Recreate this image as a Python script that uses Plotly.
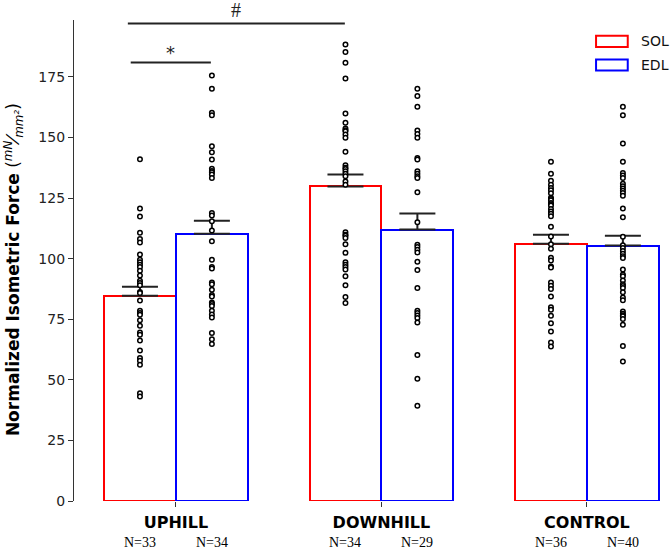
import plotly.graph_objects as go

# ---------------- data ----------------
groups = ["UPHILL", "DOWNHILL", "CONTROL"]
series_names = ["SOL", "EDL"]

sol_mean = [84.7, 129.8, 106.2]
sol_sem = [3.7, 4.9, 3.7]
edl_mean = [110.3, 112.0, 105.4]
edl_sem = [5.4, 6.6, 4.1]

sol_n = [33, 34, 36]
edl_n = [34, 29, 40]

sol_uphill = [141.0, 120.7, 117.4, 110.7, 108.1, 106.7, 101.7, 99.6, 98.5, 97.5, 96.6,
              95.0, 93.1, 90.9, 90.0, 89.0, 86.2, 85.8, 82.7, 78.5, 77.6, 76.9, 74.6,
              72.3, 69.5, 68.6, 66.2, 62.1, 59.0, 57.9, 56.2, 44.5, 43.1]
edl_uphill = [175.6, 170.1, 160.2, 159.2, 146.4, 143.9, 140.9, 137.1, 136.2, 135.7, 134.7,
              133.3, 118.9, 117.8, 115.4, 111.6, 107.2, 99.6, 96.6, 96.0, 90.2, 89.5,
              87.2, 85.0, 84.4, 81.9, 81.3, 80.5, 78.5, 77.0, 75.7, 69.3, 66.8, 64.8]
sol_downhill = [188.4, 185.3, 180.9, 174.4, 159.9, 156.1, 153.7, 153.0, 152.6, 151.2, 149.9,
                144.1, 138.6, 137.5, 137.0, 136.1, 135.0, 134.0, 131.9, 130.5, 110.9, 109.9,
                109.5, 108.5, 106.0, 102.4, 98.5, 97.5, 96.6, 95.5, 92.7, 89.0, 84.2, 81.7]
edl_downhill = [170.1, 167.1, 162.7, 152.9, 151.5, 149.9, 141.5, 140.9, 136.1, 135.1, 134.0,
                133.3, 127.4, 115.0, 105.8, 104.8, 103.7, 102.6, 98.7, 95.3, 87.9, 78.5,
                77.6, 76.6, 75.5, 73.7, 60.2, 50.5, 39.3]
sol_control = [140.0, 135.0, 132.2, 130.5, 129.2, 128.2, 127.0, 125.1, 124.6, 124.1, 123.0,
               122.5, 121.9, 120.5, 119.5, 118.5, 117.5, 113.2, 109.2, 106.0, 104.1, 100.4,
               99.3, 96.8, 96.4, 90.2, 88.8, 87.5, 84.4, 80.0, 78.9, 76.4, 73.4, 70.0,
               65.4, 63.8]
edl_control = [162.7, 159.2, 147.5, 140.0, 135.4, 134.3, 133.3, 130.9, 129.9, 129.0, 128.0,
               127.1, 126.0, 120.7, 117.1, 109.0, 105.5, 104.4, 103.2, 102.0, 101.0, 100.3,
               95.5, 93.5, 92.7, 91.0, 89.5, 88.7, 87.9, 86.1, 84.0, 82.8, 78.2, 77.3,
               76.7, 76.2, 75.1, 72.7, 64.0, 57.6]

sol_points = [sol_uphill, sol_downhill, sol_control]
edl_points = [edl_uphill, edl_downhill, edl_control]

y_tick_vals = [0, 25, 50, 75, 100, 125, 150, 175]

# significance brackets: (x start, x end, y level, label)
brackets = [(-0.22, 0.17, 181.0, "*"), (-0.234, 0.822, 197.1, "#")]

# ---------------- styling ----------------
BAR_W = 0.35
OFFS = BAR_W / 2
FONT = "DejaVu Sans"
colors = {"SOL": "#ff0000", "EDL": "#0000ff"}

fig = go.Figure()

sol_x = [i - OFFS for i in range(len(groups))]
edl_x = [i + OFFS for i in range(len(groups))]

for name, xs, means, sems in [("SOL", sol_x, sol_mean, sol_sem),
                              ("EDL", edl_x, edl_mean, edl_sem)]:
    fig.add_trace(go.Bar(
        x=xs, y=means, width=BAR_W, name=name, showlegend=False,
        marker=dict(color="rgba(255,255,255,0)", line=dict(color=colors[name], width=2)),
        error_y=dict(type="data", symmetric=False, array=sems, arrayminus=[0] * len(sems),
                     color="#222222", thickness=2, width=18),
    ))

for xs, pts_list in [(sol_x, sol_points), (edl_x, edl_points)]:
    for xc, pts in zip(xs, pts_list):
        fig.add_trace(go.Scatter(
            x=[xc] * len(pts), y=pts, mode="markers", showlegend=False,
            marker=dict(symbol="circle", size=4.5, color="white",
                        line=dict(color="black", width=1.5)),
        ))

# significance brackets
for x0, x1, yv, lab in brackets:
    fig.add_shape(type="line", x0=x0, x1=x1, y0=yv, y1=yv, xref="x", yref="y",
                  line=dict(color="#222222", width=2))
    fig.add_annotation(x=(x0 + x1) / 2, y=yv, xref="x", yref="y", text=lab,
                       showarrow=False, yanchor="bottom", yshift=-3 if lab == "*" else 0,
                       font=dict(family=FONT if lab == "*" else "Liberation Serif",
                                 size=18 if lab == "*" else 20, color="#222222"))

# N labels
for xs, ns in [(sol_x, sol_n), (edl_x, edl_n)]:
    for xc, n in zip(xs, ns):
        fig.add_annotation(x=xc, y=-0.087, xref="x", yref="paper", text=f"N={n}",
                           showarrow=False, yanchor="middle",
                           font=dict(family="Liberation Serif", size=14, color="black"))

# custom legend
leg = [("SOL", 0.967, 0.944), ("EDL", 0.918, 0.895)]
for name, ytop, ybot in leg:
    fig.add_shape(type="rect", xref="paper", yref="paper", x0=0.873, x1=0.926,
                  y0=ybot, y1=ytop, line=dict(color=colors[name], width=2),
                  fillcolor="white")
    fig.add_annotation(xref="paper", yref="paper", x=0.944, y=(ytop + ybot) / 2,
                       text=name, showarrow=False, xanchor="left", yanchor="middle",
                       font=dict(family=FONT, size=14, color="#111111"))

# y-axis title
fig.add_annotation(
    xref="paper", yref="paper", x=-0.102, y=0.48, textangle=-90, showarrow=False,
    xanchor="center", yanchor="middle",
    text="<b>Normalized Isometric Force</b> (<i><sup>mN</sup>⁄<sub>mm²</sub></i>)",
    font=dict(family=FONT, size=17, color="black"))

fig.update_layout(
    width=672, height=550,
    margin=dict(l=74, r=0, t=20, b=49),
    plot_bgcolor="white", paper_bgcolor="white",
    font=dict(family=FONT, color="black"),
    showlegend=False,
    bargap=0,
)
fig.update_xaxes(
    range=[-0.496, 2.414], tickvals=list(range(len(groups))), ticktext=groups,
    showline=False, showgrid=False, zeroline=False,
    ticks="outside", ticklen=5, tickwidth=1, tickcolor="#333333",
    tickfont=dict(family=FONT, size=16, color="black", weight="bold"),
    ticklabelstandoff=2,
)
fig.update_yaxes(
    range=[0, 198.5], tickvals=y_tick_vals,
    showline=True, linecolor="#333333", linewidth=1.2, showgrid=False, zeroline=False,
    ticks="outside", ticklen=5, tickwidth=1.2, tickcolor="#333333",
    tickfont=dict(family=FONT, size=14, color="#222222"),
)

fig.write_html(
    "out.html",
    config={"displayModeBar": False},
    post_script="document.body.style.margin='0';document.body.style.overflow='hidden';",
)
